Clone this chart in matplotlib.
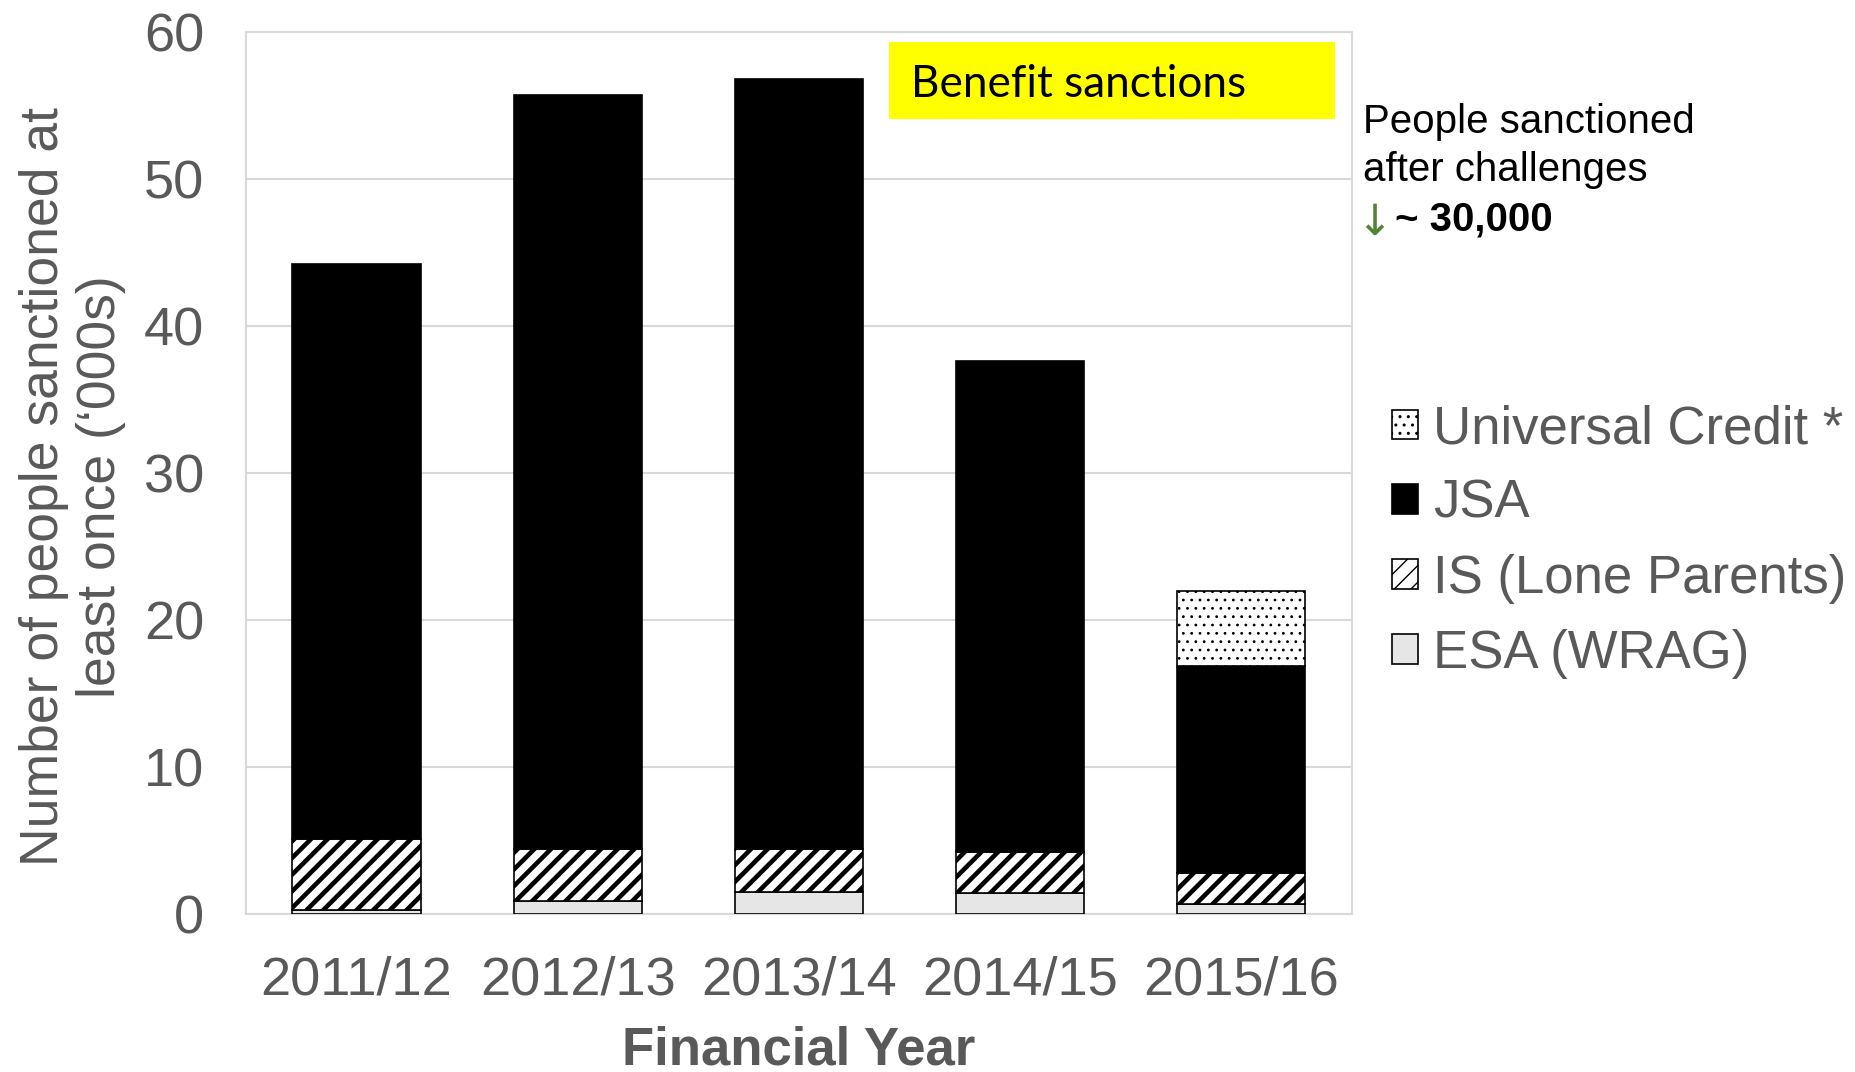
import numpy as np
import matplotlib
matplotlib.use("Agg")
import matplotlib.pyplot as plt
from matplotlib.patches import Rectangle

# values in thousands
years = ["2011/12", "2012/13", "2013/14", "2014/15", "2015/16"]
esa_wrag = [0.3, 0.9, 1.5, 1.45, 0.7]
is_lone = [4.8, 3.5, 2.9, 2.75, 2.1]
jsa = [39.1, 51.3, 52.4, 33.45, 14.1]
uc = [0.0, 0.0, 0.0, 0.0, 5.1]

yticks = [0, 10, 20, 30, 40, 50, 60]
grey = "#595959"

plt.rcParams['font.family'] = ['Liberation Sans', 'DejaVu Sans']
plt.rcParams['hatch.linewidth'] = 1.0


def hatch_lw(bars, lw):
    # per-artist hatch width where the matplotlib version allows it
    for p in bars:
        if hasattr(p, "set_hatch_linewidth"):
            p.set_hatch_linewidth(lw)


fig = plt.figure(figsize=(18.55, 10.72), dpi=100)
ax = fig.add_axes([0.1326, 0.1474, 0.5962, 0.8227])

x = np.arange(len(years))
w = 0.58
esa = np.array(esa_wrag)
isl = np.array(is_lone)
js = np.array(jsa)
u = np.array(uc)

b1 = ax.bar(x, esa, w, color="#e6e6e6", edgecolor="black", linewidth=1.2, zorder=3)
b2 = ax.bar(x, isl, w, bottom=esa, color="white", edgecolor="black",
            hatch="//", linewidth=1.2, zorder=3)
hatch_lw(b2, 3.3)
b3 = ax.bar(x, js, w, bottom=esa + isl, color="black", edgecolor="black",
            linewidth=1.2, zorder=3)
b4 = ax.bar(x[u > 0], u[u > 0], w, bottom=(esa + isl + js)[u > 0], color="white",
            edgecolor="black", hatch="..", linewidth=1.2, zorder=3)
hatch_lw(b4, 0.8)

ax.set_xlim(-0.5, len(years) - 0.5)
ax.set_ylim(0, 60)
ax.set_yticks(yticks)
ax.set_xticks(x)
ax.set_xticklabels(years)
ax.tick_params(axis='both', length=0, labelsize=39, colors=grey)
ax.tick_params(axis='y', pad=30)
ax.tick_params(axis='x', pad=30)
ax.yaxis.grid(True, color="#d9d9d9", linewidth=1.5, zorder=0)
ax.set_axisbelow(True)
for s in ax.spines.values():
    s.set_color("#d9d9d9")
    s.set_linewidth(1.5)

ax.set_xlabel("Financial Year", fontsize=38, fontweight="bold", color=grey, labelpad=14)
ax.set_ylabel("Number of people sanctioned at\nleast once (\u2018000s)", fontsize=38.5,
              color=grey, linespacing=1.17, labelpad=13)
ax.yaxis.label.set_y(0.485)

# yellow title box
ax.add_patch(Rectangle((0.581, 0.901), 0.404, 0.088, transform=ax.transAxes,
                       facecolor="#ffff00", edgecolor="none", zorder=4))
ax.text(0.601, 0.941, "Benefit sanctions", transform=ax.transAxes, fontsize=31.8,
        family=["Lato", "DejaVu Sans"], color="black", va="center", ha="left", zorder=5)

# annotation on the right
fig.text(0.735, 0.886, "People sanctioned", fontsize=29, color="black", va="center")
fig.text(0.735, 0.841, "after challenges", fontsize=29, color="black", va="center")
fig.text(0.731, 0.792, "\u2193", fontsize=31, color="#548235", va="center",
         family=["DejaVu Sans"])
fig.text(0.752, 0.795, "~ 30,000", fontsize=29, color="black", va="center",
         fontweight="bold")

handles = [b4, b3, b2, b1]
labels = ["Universal Credit *", "JSA", "IS (Lone Parents)", "ESA (WRAG)"]
leg = fig.legend(handles, labels, loc="upper left", bbox_to_anchor=(0.7505, 0.623),
                 frameon=False, fontsize=38, handlelength=0.49, handleheight=0.49,
                 handletextpad=0.29, labelspacing=0.47, borderaxespad=0, borderpad=0)
for t in leg.get_texts():
    t.set_color(grey)

fig.savefig("out.png", dpi=100)
